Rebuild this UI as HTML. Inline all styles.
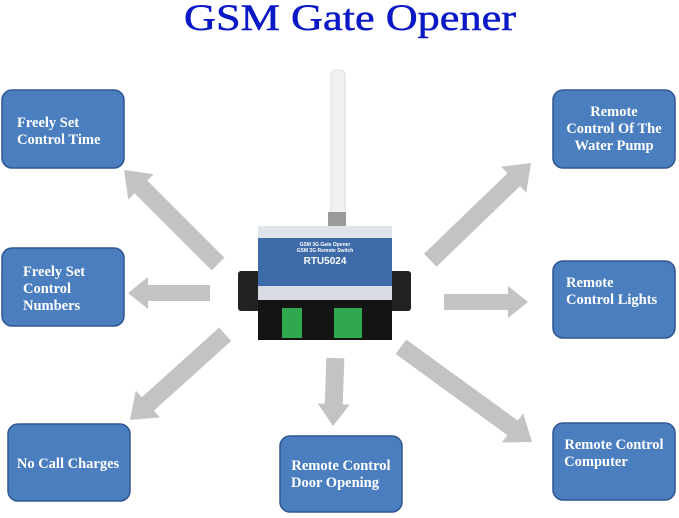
<!DOCTYPE html>
<html><head><meta charset="utf-8"><style>
html,body{margin:0;padding:0;background:#fff;}
svg{display:block;}
.bx{fill:#4a7ebf;stroke:#30568f;stroke-width:1.5;}
.t{font-family:"Liberation Serif",serif;font-weight:bold;font-size:14.5px;fill:#fff;}
.ar{fill:#c3c3c3;}
</style></head><body>
<svg width="679" height="518" viewBox="0 0 679 518">
<text x="350" y="30" text-anchor="middle" font-family="Liberation Serif,serif" font-size="37" fill="#0a18c6" stroke="#0a18c6" stroke-width="0.5" textLength="332" lengthAdjust="spacingAndGlyphs">GSM Gate Opener</text>

<g class="ar">
<g transform="translate(124,170) rotate(225)"><polygon points="0,0 -24,-18 -24,-9 -133,-9 -133,9 -24,9 -24,18"/></g>
<g transform="translate(128,293) rotate(180)"><polygon points="0,0 -20,-16 -20,-8 -82,-8 -82,8 -20,8 -20,16"/></g>
<g transform="translate(130,420) rotate(138)"><polygon points="0,0 -24,-18 -24,-9 -128,-9 -128,9 -24,9 -24,18"/></g>
<g transform="translate(333,426) rotate(92)"><polygon points="0,0 -22,-16 -22,-9 -68,-9 -68,9 -22,9 -22,16"/></g>
<g transform="translate(532,442) rotate(36)"><polygon points="0,0 -24,-18 -24,-9 -162,-9 -162,9 -24,9 -24,18"/></g>
<g transform="translate(528,302)"><polygon points="0,0 -20,-16 -20,-8 -84,-8 -84,8 -20,8 -20,16"/></g>
<g transform="translate(531,163) rotate(-44)"><polygon points="0,0 -24,-18 -24,-9 -140,-9 -140,9 -24,9 -24,18"/></g>
</g>

<rect class="bx" x="2" y="90" width="122" height="78" rx="10"/>
<text class="t" x="17" y="127">Freely Set</text><text class="t" x="17" y="144">Control Time</text>
<rect class="bx" x="2" y="248" width="122" height="78" rx="10"/>
<text class="t" x="23" y="276">Freely Set</text><text class="t" x="23" y="293">Control</text><text class="t" x="23" y="310">Numbers</text>
<rect class="bx" x="8" y="424" width="122" height="77" rx="10"/>
<text class="t" x="68" y="468" text-anchor="middle">No Call Charges</text>
<rect class="bx" x="280" y="436" width="122" height="76" rx="10"/>
<text class="t" x="341" y="470" text-anchor="middle">Remote Control</text><text class="t" x="335" y="487" text-anchor="middle">Door Opening</text>
<rect class="bx" x="553" y="423" width="122" height="77" rx="10"/>
<text class="t" x="614" y="449" text-anchor="middle">Remote Control</text><text class="t" x="596" y="466" text-anchor="middle">Computer</text>
<rect class="bx" x="553" y="261" width="122" height="77" rx="10"/>
<text class="t" x="566" y="287">Remote</text><text class="t" x="566" y="304">Control Lights</text>
<rect class="bx" x="553" y="90" width="122" height="78" rx="10"/>
<text class="t" x="614" y="116" text-anchor="middle">Remote</text><text class="t" x="614" y="133" text-anchor="middle">Control Of The</text><text class="t" x="614" y="150" text-anchor="middle">Water Pump</text>

<rect x="331" y="70" width="14" height="155" rx="5" fill="#f1f1ef" stroke="#dcdcd8"/>
<rect x="328" y="212" width="18" height="14" fill="#9a9a9a"/>
<rect x="238" y="271" width="22" height="40" rx="3" fill="#222"/>
<rect x="389" y="271" width="22" height="40" rx="3" fill="#222"/>
<rect x="258" y="226" width="134" height="12" fill="#dfe3ea"/>
<rect x="258" y="238" width="134" height="48" fill="#3d6aa8"/>
<text x="325" y="246" text-anchor="middle" font-family="Liberation Sans,sans-serif" font-size="5" font-weight="bold" fill="#fff">GSM 3G Gate Opener</text>
<text x="325" y="252" text-anchor="middle" font-family="Liberation Sans,sans-serif" font-size="5" font-weight="bold" fill="#fff">GSM 3G Remote Switch</text>
<text x="325" y="264" text-anchor="middle" font-family="Liberation Sans,sans-serif" font-size="10" font-weight="bold" fill="#fff">RTU5024</text>
<rect x="258" y="286" width="134" height="14" fill="#d8dce2"/>
<rect x="258" y="300" width="134" height="40" fill="#141414"/>
<rect x="282" y="308" width="20" height="30" fill="#2fa84f"/>
<rect x="334" y="308" width="28" height="30" fill="#2fa84f"/>
</svg>
</body></html>
